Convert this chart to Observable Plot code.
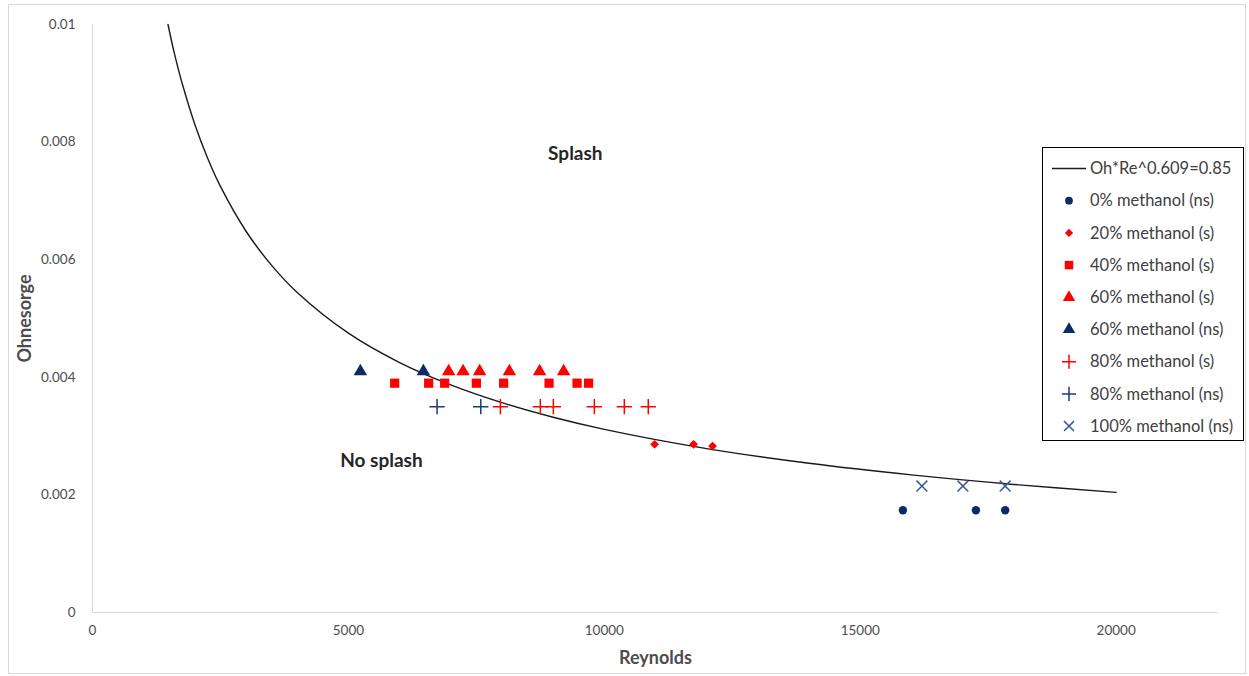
<!DOCTYPE html>
<html>
<head>
<meta charset="utf-8">
<script src="https://cdn.jsdelivr.net/npm/d3@7"></script>
<script src="https://cdn.jsdelivr.net/npm/@observablehq/plot@0.6"></script>
<style>
  html, body { margin: 0; padding: 0; background: #fff; }
  #wrap { position: relative; width: 1249px; height: 676px; font-family: Lato, "Open Sans", sans-serif; }
  #border { position: absolute; left: 8px; top: 4px; width: 1236px; height: 668px; border: 1px solid #d9d9d9; pointer-events: none; }
  #legend { position: absolute; left: 1042px; top: 147px; width: 200px; height: 292px; border: 1px solid #000; background: #fff; }
  #legend svg { position: absolute; left: 0; top: 0; }
</style>
</head>
<body>
<div id="wrap"><div id="border"></div></div>
<script>
// ---- Data ----
const curveLabel = "Oh*Re^0.609=0.85";
const curveRe = [1475, 1600, 1750, 2000, 2250, 2500, 3000, 3500, 4000, 5000, 6000, 7000, 8000, 9000, 10000, 12000, 14000, 16000, 18000, 20000];
const curveOh = [0.01, 0.009508, 0.009004, 0.008301, 0.007727, 0.007246, 0.006484, 0.005903, 0.005442, 0.00475, 0.004251, 0.003871, 0.003568, 0.00332, 0.003115, 0.002788, 0.002538, 0.00234, 0.002178, 0.002043];

const seriesNames = ["0% methanol (ns)", "20% methanol (s)", "40% methanol (s)", "60% methanol (s)", "60% methanol (ns)", "80% methanol (s)", "80% methanol (ns)", "100% methanol (ns)"];

const re0ns = [15834, 17260, 17832];
const oh0ns = [0.00174, 0.00174, 0.00174];
const re20s = [10982, 11744, 12115];
const oh20s = [0.00286, 0.00286, 0.00283];
const re40s = [5904, 6568, 6881, 7500, 8033, 8920, 9467, 9693];
const oh40s = [0.0039, 0.0039, 0.0039, 0.0039, 0.0039, 0.0039, 0.0039, 0.0039];
const re60s = [6959, 7240, 7564, 8145, 8736, 9205];
const oh60s = [0.0041, 0.0041, 0.0041, 0.0041, 0.0041, 0.0041];
const re60ns = [5234, 6465];
const oh60ns = [0.0041, 0.0041];
const re80s = [7969, 8750, 9004, 9805, 10391, 10859];
const oh80s = [0.0035, 0.0035, 0.0035, 0.0035, 0.0035, 0.0035];
const re80ns = [6732, 7586];
const oh80ns = [0.0035, 0.0035];
const re100ns = [16205, 17006, 17832];
const oh100ns = [0.00215, 0.00215, 0.00215];

const xTicks = [0, 5000, 10000, 15000, 20000];
const yTicks = [0, 0.002, 0.004, 0.006, 0.008, 0.01];
const yTickLabels = ["0", "0.002", "0.004", "0.006", "0.008", "0.01"];

const regionLabels = ["Splash", "No splash"];
const regionRe = [9434, 5645];
const regionOh = [0.0078, 0.00257];

// ---- Styles per series ----
const navy = "#0b2a66";
const red = "#ff0000";
const styles = [
  {symbol: "circle", fill: navy, stroke: "none", r: 4.2},
  {symbol: "diamond2", fill: red, stroke: red, r: 3.0},
  {symbol: "square", fill: red, stroke: "none", r: 5.2},
  {symbol: "triangle", fill: red, stroke: "none", r: 5.0},
  {symbol: "triangle", fill: navy, stroke: "none", r: 5.0},
  {symbol: "plus", fill: "none", stroke: red, r: 5.0},
  {symbol: "plus", fill: "none", stroke: "#1f3a7a", r: 5.0},
  {symbol: "times", fill: "none", stroke: "#3a5a9a", r: 5.0}
];
const seriesRe = [re0ns, re20s, re40s, re60s, re60ns, re80s, re80ns, re100ns];
const seriesOh = [oh0ns, oh20s, oh40s, oh60s, oh60ns, oh80s, oh80ns, oh100ns];

const curve = curveRe.map((re, i) => ({re, oh: curveOh[i]}));
const regions = regionLabels.map((t, i) => ({t, re: regionRe[i], oh: regionOh[i]}));

const dotMarks = seriesNames.map((name, k) => {
  const data = seriesRe[k].map((re, i) => ({re, oh: seriesOh[k][i], name}));
  const s = styles[k];
  return Plot.dot(data, {x: "re", y: "oh", symbol: () => s.symbol, r: s.r,
    fill: s.fill, stroke: s.stroke, strokeWidth: 1.5});
});

const tickColor = "#4d4d4d";
const plot = Plot.plot({
  width: 1249,
  height: 676,
  marginLeft: 92,
  marginRight: 31,
  marginTop: 24,
  marginBottom: 64,
  style: {fontFamily: "Lato, 'Open Sans', sans-serif", fontSize: "13px", background: "transparent"},
  symbol: {type: "identity"},
  x: {domain: [0, 22000], label: null},
  y: {domain: [0, 0.01], label: null},
  marks: [
    Plot.ruleY([0], {stroke: "#d9d9d9", strokeWidth: 1}),
    Plot.ruleX([0], {stroke: "#d9d9d9", strokeWidth: 1}),
    Plot.axisX(xTicks, {tickSize: 0, tickPadding: 13, fill: tickColor, fontSize: 13.5, label: null, tickFormat: d => String(d)}),
    Plot.axisY(yTicks, {tickSize: 0, tickPadding: 17, fill: tickColor, fontSize: 13.5, label: null, tickFormat: d => yTickLabels[yTicks.indexOf(d)]}),
    Plot.text(["Reynolds"], {frameAnchor: "bottom", dy: 51, fontSize: 18, fontWeight: "bold", fill: "#4d4d4d"}),
    Plot.text(["Ohnesorge"], {frameAnchor: "left", textAnchor: "middle", dx: -67, rotate: -90, fontSize: 18, fontWeight: "bold", fill: "#4d4d4d"}),
    Plot.line(curve, {x: "re", y: "oh", stroke: "#1a1a1a", strokeWidth: 1.4, curve: "catmull-rom"}),
    ...dotMarks,
    Plot.text(regions, {x: "re", y: "oh", text: "t", fontSize: 19, fontWeight: "bold", fill: "#262626"})
  ]
});
const wrap = document.getElementById("wrap");
plot.style.position = "absolute";
plot.style.left = "0px";
plot.style.top = "0px";
wrap.appendChild(plot);

// ---- Legend ----
const legend = document.createElement("div");
legend.id = "legend";
wrap.appendChild(legend);
const lsvg = d3.select(legend).append("svg").attr("width", 200).attr("height", 292);
const rowH = 32.2;
const y0 = 20.5;
const textX = 47;
const iconX = 26;
const items = [{name: curveLabel, line: true}].concat(seriesNames.map((n, k) => ({name: n, style: styles[k]})));
const symMap = {circle: d3.symbolCircle, diamond2: d3.symbolDiamond2, square: d3.symbolSquare, triangle: d3.symbolTriangle, plus: d3.symbolPlus, times: d3.symbolTimes};
items.forEach((it, i) => {
  const cy = y0 + i * rowH;
  if (it.line) {
    lsvg.append("line").attr("x1", 9).attr("x2", 43).attr("y1", cy).attr("y2", cy).attr("stroke", "#1a1a1a").attr("stroke-width", 1.4);
  } else {
    const s = it.style;
    const size = (s.r * s.r) * Math.PI * 0.85;
    lsvg.append("path")
      .attr("d", d3.symbol(symMap[s.symbol], size)())
      .attr("transform", `translate(${iconX},${cy})`)
      .attr("fill", s.fill).attr("stroke", s.stroke).attr("stroke-width", 1.5);
  }
  lsvg.append("text").attr("x", textX).attr("y", cy).attr("dy", "0.35em")
    .attr("font-family", "Lato, 'Open Sans', sans-serif").attr("font-size", 16.5).attr("fill", "#404040")
    .text(it.name);
});
</script>
</body>
</html>
